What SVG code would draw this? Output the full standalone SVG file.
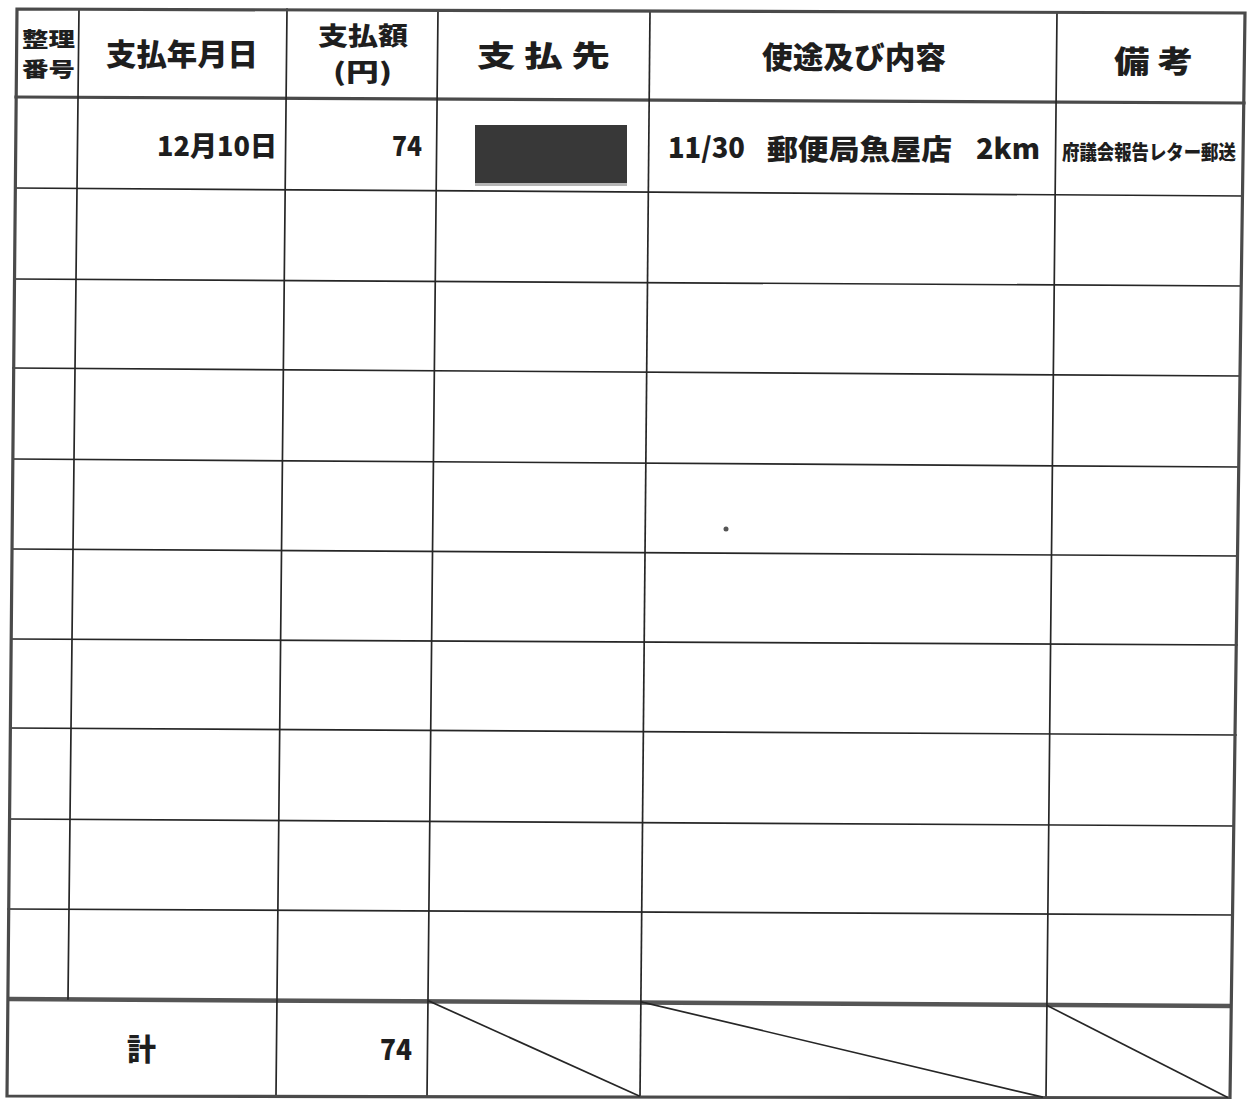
<svg xmlns="http://www.w3.org/2000/svg" width="1248" height="1099" viewBox="0 0 1248 1099">
<style>
.t{font-family:"Noto Sans CJK JP","Noto Sans CJK SC",sans-serif;font-weight:900;fill:#1e1e1e;}
.thin{stroke:#262626;stroke-width:1.7;fill:none;stroke-linecap:square}
.thick{stroke:#4a4a4a;stroke-width:3.2;fill:none;stroke-linecap:square}
.heavy{stroke:#555;stroke-width:4.5;fill:none}
</style>
<rect x="0" y="0" width="1248" height="1099" fill="#ffffff"/>
<g id="grid">
  <line class="thin" x1="15" y1="188" x2="1243" y2="196"/>
  <line class="thin" x1="14" y1="279" x2="1241" y2="286"/>
  <line class="thin" x1="13" y1="368" x2="1240" y2="376"/>
  <line class="thin" x1="13" y1="459" x2="1239" y2="467"/>
  <line class="thin" x1="12" y1="549" x2="1238" y2="556"/>
  <line class="thin" x1="11" y1="639" x2="1237" y2="645"/>
  <line class="thin" x1="10" y1="728" x2="1236" y2="735"/>
  <line class="thin" x1="9" y1="819" x2="1234" y2="826"/>
  <line class="thin" x1="8" y1="909" x2="1233" y2="915"/>
  <line class="thick" x1="16" y1="97" x2="1244" y2="103"/>
  <line class="heavy" x1="8" y1="999" x2="1232" y2="1006"/>
  <line class="thin" x1="79" y1="9" x2="68" y2="999"/>
  <line class="thin" x1="287" y1="9" x2="276" y2="1096"/>
  <line class="thin" x1="438" y1="10" x2="427" y2="1097"/>
  <line class="thin" x1="650" y1="11" x2="640" y2="1097"/>
  <line class="thin" x1="1057" y1="12" x2="1046" y2="1097"/>
  <polygon class="thick" points="17,9 1245,13 1230,1098 7,1096"/>
  <line class="thin" x1="429" y1="1001" x2="639" y2="1096"/>
  <line class="thin" x1="642" y1="1002" x2="1042" y2="1097"/>
  <line class="thin" x1="1048" y1="1006" x2="1227" y2="1097"/>
</g>
<g id="h-no">
  <text class="t" x="22" y="47" font-size="20.5" textLength="53" lengthAdjust="spacingAndGlyphs">整理</text>
  <text class="t" x="22" y="77" font-size="20.5" textLength="53" lengthAdjust="spacingAndGlyphs">番号</text>
</g>
<g id="h-date">
  <text class="t" x="106" y="65" font-size="30" textLength="152" lengthAdjust="spacingAndGlyphs">支払年月日</text>
</g>
<g id="h-amount">
  <text class="t" x="318" y="45" font-size="24.5" textLength="90" lengthAdjust="spacingAndGlyphs">支払額</text>
  <text class="t" x="333" y="81" font-size="24.5" textLength="59" lengthAdjust="spacingAndGlyphs">(円)</text>
</g>
<g id="h-payee">
  <text class="t" x="477" y="67" font-size="29" textLength="133" lengthAdjust="spacingAndGlyphs">支 払 先</text>
</g>
<g id="h-use">
  <text class="t" x="762" y="68" font-size="30" textLength="184" lengthAdjust="spacingAndGlyphs">使途及び内容</text>
</g>
<g id="h-note">
  <text class="t" x="1114" y="72" font-size="30" textLength="79" lengthAdjust="spacingAndGlyphs">備 考</text>
</g>
<g id="r1-date">
  <text class="t" x="157" y="156" font-size="27" textLength="120" lengthAdjust="spacingAndGlyphs">12月10日</text>
</g>
<g id="r1-amount">
  <text class="t" x="392" y="156" font-size="27" textLength="30" lengthAdjust="spacingAndGlyphs">74</text>
</g>
<g id="r1-payee">
  <rect x="475" y="125" width="152" height="58" fill="#383838"/>
  <rect x="475" y="183" width="152" height="3" fill="#b5b5b5"/>
</g>
<g id="r1-use">
  <text class="t" font-size="28"><tspan x="668" y="158" textLength="77" lengthAdjust="spacingAndGlyphs">11/30</tspan> <tspan x="767" y="160" textLength="185" lengthAdjust="spacingAndGlyphs">郵便局魚屋店</tspan> <tspan x="976" y="159" textLength="64" lengthAdjust="spacingAndGlyphs">2km</tspan></text>
</g>
<g id="r1-note">
  <text class="t" transform="translate(1062 160) scale(0.87 1)" font-size="20">府議会報告レター郵送</text>
</g>
<g id="total-label">
  <text class="t" x="127" y="1060" font-size="30" textLength="29" lengthAdjust="spacingAndGlyphs">計</text>
</g>
<g id="total-amount">
  <text class="t" x="380" y="1060" font-size="28" textLength="32" lengthAdjust="spacingAndGlyphs">74</text>
</g>
<circle cx="726" cy="529" r="2.5" fill="#555"/>
</svg>
